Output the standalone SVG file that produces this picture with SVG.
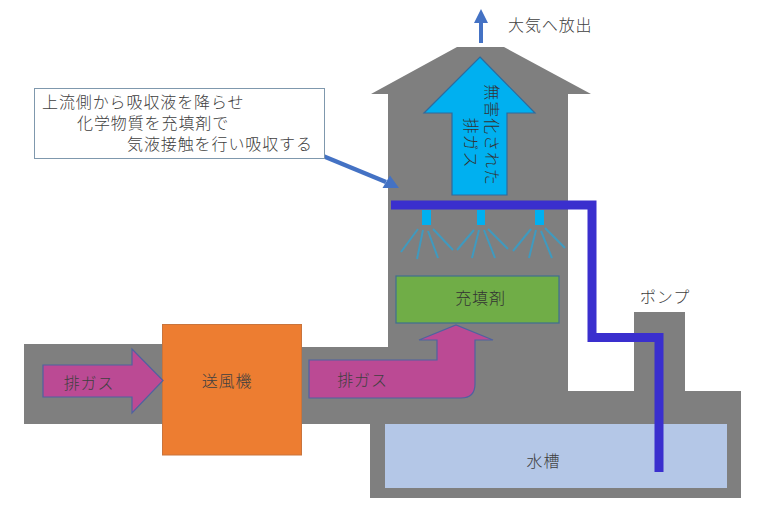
<svg xmlns="http://www.w3.org/2000/svg" width="765" height="508" viewBox="0 0 765 508">
<style>
text{font-family:"Noto Sans CJK JP","Noto Sans CJK SC",sans-serif;font-size:16px;letter-spacing:.9px;font-weight:300;fill:#404040;dominant-baseline:central}
.dark{fill:#333333}
.body{fill:#7f7f7f}
.pink{fill:#bb4a94;stroke:#4f62a0;stroke-width:1.2}
.noz{fill:#00b0f0}
.spray{stroke:#3f9abf;stroke-width:2;fill:none}
.pipe{fill:none;stroke:#3a2fce;stroke-width:9;stroke-linejoin:miter}
.blue{fill:#4472c4}
</style>
<rect width="765" height="508" fill="#ffffff"/>
<g id="tower">
<path class="body" d="M457 47H504L591 94H568V391H634V312H685V391H741V498H370V424H24V344H162V347H388V94H371Z"/>
</g>
<g id="tank">
<rect x="385" y="424" width="342" height="64" fill="#b4c7e7"/>
<text x="543.500" y="460" text-anchor="middle">水槽</text>
</g>
<g id="pump-label">
<text x="665" y="296" text-anchor="middle">ポンプ</text>
</g>
<g id="blower">
<rect x="162.500" y="324.500" width="139" height="130.500" fill="#ed7d31" stroke="#c9743c" stroke-width="1"/>
<text x="227" y="380" text-anchor="middle">送風機</text>
</g>
<g id="gas-in">
<path class="pink" d="M43 365H132V349L163 380.500L132 413V397H43Z"/>
<text x="89" y="382" text-anchor="middle">排ガス</text>
</g>
<g id="gas-bent">
<path class="pink" d="M309 360H437V340H419L456 325L493 340H475V384Q475 398 461 398H309Z"/>
<text x="362.500" y="379" text-anchor="middle">排ガス</text>
</g>
<g id="packing">
<rect x="396" y="276" width="163" height="47" fill="#70ad47" stroke="#3f6f8f" stroke-width="1.2"/>
<text x="480.500" y="297" text-anchor="middle" class="dark">充填剤</text>
</g>
<g id="clean-gas">
<path d="M480 57L535 113H507V195H452V113H424Z" fill="#00b0f0" stroke="#2f6a9c" stroke-width="1.2"/>
<text transform="translate(493 135) rotate(90)" text-anchor="middle" class="dark">無害化された</text>
<text transform="translate(472 143) rotate(90)" text-anchor="middle" class="dark">排ガス</text>
</g>
<g id="nozzles">
<rect class="noz" x="422" y="210" width="9" height="15"/>
<rect class="noz" x="477" y="210" width="8" height="15"/>
<rect class="noz" x="535" y="210" width="9" height="15"/>
</g>
<g id="sprays">
<path class="spray" d="M418 229L401 252M423 230L417 259M428 231L438 258M433 229L453 250M474 230L457 250M479 230L472 258M484 230L495 258M488 229L508 249M531 229L513 251M536 230L529 258M541 231L552 258M545 228L565 248"/>
</g>
<g id="connectors">
<path class="pipe" d="M391 205H592V337.500H659V472"/>
<path class="blue" d="M479 43V23H474L481 9L488 23H483V43Z"/>
<path d="M323 156L386 182" stroke="#4472c4" stroke-width="4.500" fill="none"/>
<path class="blue" d="M399 188L382.500 188L390 175.500Z"/>
</g>
<g id="callout">
<rect x="34.500" y="88.500" width="290" height="70" fill="#ffffff" stroke="#7f98ad" stroke-width="1"/>
<text x="42" y="101">上流側から吸収液を降らせ</text>
<text x="77" y="122">化学物質を充填剤で</text>
<text x="127" y="143">気液接触を行い吸収する</text>
</g>
<g id="outlet-label">
<text x="508" y="24">大気へ放出</text>
</g>
</svg>
